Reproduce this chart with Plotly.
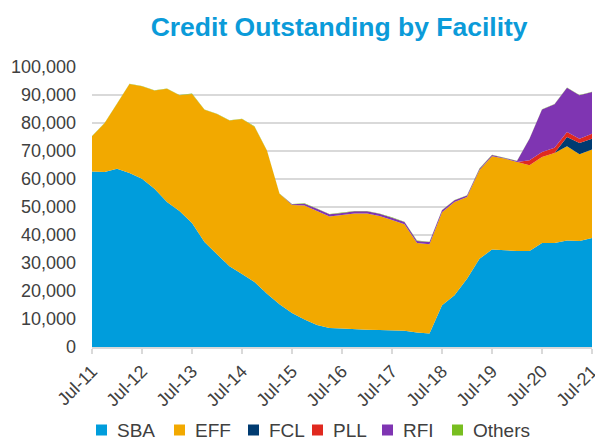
import plotly.graph_objects as go

quarters = ["Jul-11","Oct-11","Jan-12","Apr-12","Jul-12","Oct-12","Jan-13","Apr-13",
            "Jul-13","Oct-13","Jan-14","Apr-14","Jul-14","Oct-14","Jan-15","Apr-15",
            "Jul-15","Oct-15","Jan-16","Apr-16","Jul-16","Oct-16","Jan-17","Apr-17",
            "Jul-17","Oct-17","Jan-18","Apr-18","Jul-18","Oct-18","Jan-19","Apr-19",
            "Jul-19","Oct-19","Jan-20","Apr-20","Jul-20","Oct-20","Jan-21","Apr-21","Jul-21"]

# values in SDR millions
sba = [62700, 62500, 63700, 62100, 60100, 56500, 51800, 48600, 44300, 37500, 33100, 28800,
       26100, 23200, 19000, 15300, 12100, 9800, 7900, 6800, 6600, 6300, 6200, 6100,
       5900, 5800, 5200, 4800, 14900, 18500, 24400, 31500, 34800, 34500, 34300, 34300,
       37100, 37100, 38000, 37900, 38900]
eff = [12600, 17400, 23200, 31800, 33000, 35100, 40400, 41300, 46100, 47200, 50100, 52100,
       55300, 55500, 51100, 39400, 38600, 40700, 40700, 39800, 40500, 41400, 41500, 40700,
       39500, 38000, 31900, 31900, 33200, 33300, 29200, 31700, 33300, 32800, 31800, 30600,
       30800, 32200, 33700, 30900, 31600]
fcl = [0]*37 + [0, 3300, 4100, 3900]
pll = [0]*35 + [1800, 1700, 1900, 1800, 1500, 1800]
rfi = [0]*16 + [300, 700, 800, 800, 800, 800, 800, 800, 800, 800, 800, 800,
                700, 600, 500, 500, 500, 300, 300, 7700, 15200, 15500, 15800, 15500, 14900]
others = [100]*41

names = ["SBA", "EFF", "FCL", "PLL", "RFI", "Others"]
values = [sba, eff, fcl, pll, rfi, others]
colors = ["#009ddc", "#f2a900", "#003b71", "#e0291f", "#7f35b2", "#78be20"]

# legend layout (pixel positions in the 595x439 canvas)
legend_left = [96, 174, 248, 312, 382, 452]
legend_sq = 11
legend_cy = 430

W, H = 595, 439
ML, MR, MT, MB = 92, 3, 67, 92
PW, PH = W - ML - MR, H - MT - MB

x = list(range(len(quarters)))
fig = go.Figure()
for name, vals, col in zip(names, values, colors):
    fig.add_trace(go.Scatter(x=x, y=vals, name=name, mode="lines", stackgroup="one",
                             line=dict(width=0, color=col), fillcolor=col,
                             showlegend=False))

def px_to_paper_x(px):
    return (px - ML) / PW

def py_to_paper_y(py):
    return (H - MB - py) / PH

for name, col, lx in zip(names, colors, legend_left):
    fig.add_shape(type="rect", xref="paper", yref="paper",
                  x0=px_to_paper_x(lx), x1=px_to_paper_x(lx + legend_sq),
                  y0=py_to_paper_y(legend_cy + legend_sq / 2), y1=py_to_paper_y(legend_cy - legend_sq / 2),
                  fillcolor=col, line=dict(width=0), layer="above")
    fig.add_annotation(text=name, xref="paper", yref="paper",
                       x=px_to_paper_x(lx + legend_sq + 9), y=py_to_paper_y(legend_cy),
                       xanchor="left", yanchor="middle", showarrow=False, borderpad=0,
                       font=dict(size=19, color="#404040"))

tickpos = x[::4]
ticktxt = quarters[::4]

fig.update_layout(
    width=W, height=H,
    margin=dict(l=ML, r=MR, t=MT, b=MB),
    paper_bgcolor="white", plot_bgcolor="white",
    font=dict(family="Liberation Sans, Arial, sans-serif", color="#404040", size=18),
    title=dict(text="<b>Credit Outstanding by Facility</b>", x=0.570, xanchor="center",
               y=0.938, yanchor="middle",
               font=dict(size=26.5, color="#0b9bd9", family="Liberation Sans, Arial, sans-serif")),
    showlegend=False,
    xaxis=dict(range=[0, 40], tickmode="array", tickvals=tickpos, ticktext=ticktxt,
               tickangle=-45, showgrid=False, showline=True, linecolor="#d9d9d9", linewidth=1.5,
               ticks="outside", ticklen=5, tickcolor="#d9d9d9", tickwidth=1.5,
               tickfont=dict(size=18, color="#404040"), zeroline=False, automargin=False,
               ticklabeloverflow="allow"),
    yaxis=dict(range=[0, 100000], tickvals=list(range(0, 100001, 10000)),
               tickformat=",d", showgrid=True, gridcolor="#d9d9d9", gridwidth=1.5,
               showline=False, zeroline=False, ticks="", ticklabelstandoff=15,
               tickfont=dict(size=18, color="#404040"), automargin=False),
)

fig.write_html("out.html", config={"displayModeBar": False},
               post_script="document.body.style.margin='0px';")
